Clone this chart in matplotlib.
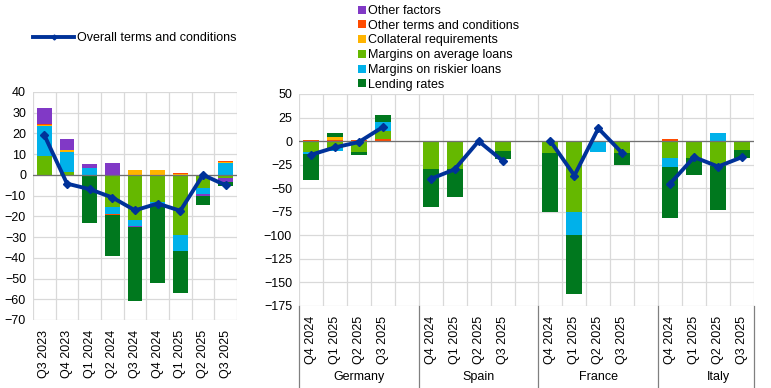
import numpy as np
import matplotlib
matplotlib.use("Agg")
import matplotlib.pyplot as plt
from matplotlib.patches import Patch
from matplotlib.lines import Line2D
import matplotlib.transforms as mtransforms

plt.rcParams['font.family'] = ['Liberation Sans', 'DejaVu Sans']
plt.rcParams['font.size'] = 8

# ---- data: left panel (euro area) ----
quarters_l = ['Q3 2023', 'Q4 2023', 'Q1 2024', 'Q2 2024', 'Q3 2024',
              'Q4 2024', 'Q1 2025', 'Q2 2025', 'Q3 2025']
lending_l = [0, 0, -23.2, -19.8, -35.8, -38.4, -20.3, -4.7, -1.7]
riskier_l = [14.2, 9.5, 3.5, -3.1, -2.6, -0.8, -7.6, -2.8, 5.6]
average_l = [9.3, 1.4, 0, -15.6, -21.9, -13.0, -29.1, -6.4, -1.6]
collateral_l = [0.4, 1.0, 0, 0, 2.2, 2.2, 0.6, 0, 0.5]
other_terms_l = [0.5, 0, 0, -0.6, 0.4, 0.4, 0.5, 0, 0.8]
other_factors_l = [7.8, 5.3, 1.6, 5.8, -0.6, 0, 0, -0.8, -2.0]
overall_l = [19.2, -4.2, -6.9, -10.9, -17.1, -13.8, -17.3, 0, -5.0]

# ---- data: right panel (countries) ----
countries = ['Germany', 'Spain', 'France', 'Italy']
quarters_r = ['Q4 2024', 'Q1 2025', 'Q2 2025', 'Q3 2025']
lending_r = [-26.6, 4.6, -2.8, 7.4,
             -40.2, -30.2, 0, -9.2,
             -62.4, -62.4, 0, -12.8,
             -53.9, -17.8, -45.7, -8.2]
riskier_r = [-2.2, -3.6, 0, 10.3,
             0, 0, 0, 0,
             0, -24.8, -12.0, 0,
             -9.6, 0, 8.9, 0]
average_r = [-12.0, -7.4, -11.7, 7.8,
             -29.4, -29.4, 0, -10.3,
             -12.4, -74.8, 0, -12.4,
             -17.7, -17.7, -26.9, -9.2]
collateral_r = [0, 2.8, 0, 0,
                0, 0, 0, 0,
                0, 0, 0, 0,
                0, 0, 0, 0]
other_terms_r = [1.0, 1.5, 1.0, 2.5,
                 0, 0, 0, 0,
                 0, 0, 0, 0,
                 2.5, 0, 0, 0]
other_factors_r = [0] * 16
overall_r = [-14.5, -6.7, -1.0, 14.9,
             -40.1, -30.0, 0, -20.9,
             0, -36.5, 13.5, -12.8,
             -45.0, -17.0, -27.0, -17.0]

colors = {
    'Other factors': '#8139c6',
    'Other terms and conditions': '#ff4b00',
    'Collateral requirements': '#ffb400',
    'Margins on average loans': '#65b800',
    'Margins on riskier loans': '#00b1ea',
    'Lending rates': '#00781e',
}
line_color = '#003299'
grid_color = '#d9d9d9'


def stack(ax, x, series, width):
    # Excel-like stacking: positives go up, negatives go down, in given order
    pos = np.zeros(len(x))
    neg = np.zeros(len(x))
    for name, vals in series:
        v = np.array(vals, dtype=float)
        bottom = np.where(v >= 0, pos, neg)
        ax.bar(x, v, width, bottom=bottom, color=colors[name], linewidth=0, zorder=2)
        pos = pos + np.where(v > 0, v, 0)
        neg = neg + np.where(v < 0, v, 0)


fig = plt.figure(figsize=(7.71, 3.88), dpi=100)

# ---------------- left panel ----------------
axl = fig.add_axes([33 / 771, 1 - 320 / 388, 204 / 771, 228 / 388])
xl = np.arange(len(quarters_l))
stack(axl, xl, [
    ('Margins on average loans', average_l),
    ('Margins on riskier loans', riskier_l),
    ('Collateral requirements', collateral_l),
    ('Other terms and conditions', other_terms_l),
    ('Other factors', other_factors_l),
    ('Lending rates', lending_l),
], 0.66)
axl.plot(xl, overall_l, color=line_color, lw=2.8, marker='D', ms=4.5, zorder=4)
axl.axhline(0, color='#707070', lw=0.9, zorder=3)
axl.set_xlim(-0.5, len(quarters_l) - 0.5)
axl.set_ylim(-70, 40)
axl.set_yticks(np.arange(-70, 41, 10))
axl.set_xticks(xl)
axl.set_xticklabels(quarters_l, rotation=90)
axl.set_xticks(np.arange(-0.5, len(quarters_l), 1), minor=True)
axl.grid(True, which='major', axis='y', color=grid_color, lw=0.9, zorder=0)
axl.grid(True, which='minor', axis='x', color=grid_color, lw=0.9, zorder=0)
axl.tick_params(which='both', length=0)
axl.tick_params(axis='y', labelsize=9, pad=5)
axl.tick_params(axis='x', labelsize=9, pad=7)
for s in axl.spines.values():
    s.set_visible(False)

# ---------------- right panel ----------------
axr = fig.add_axes([299 / 771, 1 - 306 / 388, 455 / 771, 212 / 388])
xr = np.array([g * 5 + q for g in range(len(countries)) for q in range(len(quarters_r))])
stack(axr, xr, [
    ('Other terms and conditions', other_terms_r),
    ('Collateral requirements', collateral_r),
    ('Margins on average loans', average_r),
    ('Margins on riskier loans', riskier_r),
    ('Other factors', other_factors_r),
    ('Lending rates', lending_r),
], 0.67)
for g in range(len(countries)):
    sl = slice(g * 4, g * 4 + 4)
    axr.plot(xr[sl], overall_r[sl], color=line_color, lw=2.8, marker='D', ms=4.5, zorder=4)
axr.axhline(0, color='#707070', lw=0.9, zorder=3)
axr.set_xlim(-0.5, 18.5)
axr.set_ylim(-175, 50)
axr.set_yticks(np.arange(-175, 51, 25))
axr.set_xticks(xr)
axr.set_xticklabels(quarters_r * len(countries), rotation=90)
axr.set_xticks(np.arange(-0.5, 19, 1), minor=True)
axr.grid(True, which='major', axis='y', color=grid_color, lw=0.9, zorder=0)
axr.grid(True, which='minor', axis='x', color=grid_color, lw=0.9, zorder=0)
axr.tick_params(which='both', length=0)
axr.tick_params(axis='y', labelsize=9, pad=5)
axr.tick_params(axis='x', labelsize=9, pad=7)
for s in axr.spines.values():
    s.set_visible(False)

trans = mtransforms.blended_transform_factory(axr.transData, axr.transAxes)
for sep in [-0.5, 4.5, 9.5, 14.5, 18.5]:
    axr.plot([sep, sep], [0, -0.39], color='#808080', lw=0.9, transform=trans, clip_on=False)
for g, name in enumerate(countries):
    axr.text(g * 5 + 2.0, -0.335, name, transform=trans, ha='center', va='center', fontsize=9)

# ---------------- legends ----------------
bar_names = ['Other factors', 'Other terms and conditions', 'Collateral requirements',
             'Margins on average loans', 'Margins on riskier loans', 'Lending rates']
handles = [Patch(facecolor=colors[n], edgecolor='none') for n in bar_names]
fig.legend(handles, bar_names, loc='upper left', bbox_to_anchor=(358 / 771, 1 - 5 / 388),
           frameon=False, fontsize=9, handlelength=0.6, handleheight=0.6,
           handletextpad=0.2, labelspacing=0.22, borderpad=0, borderaxespad=0)

line_handle = Line2D([], [], color=line_color, lw=2.8, marker='D', ms=2.5)
fig.legend([line_handle], ['Overall terms and conditions'], loc='upper left',
           bbox_to_anchor=(33 / 771, 1 - 32 / 388), frameon=False, fontsize=9,
           handlelength=3.3, handletextpad=0.2, borderpad=0, borderaxespad=0)

fig.savefig('out.png', dpi=100)
